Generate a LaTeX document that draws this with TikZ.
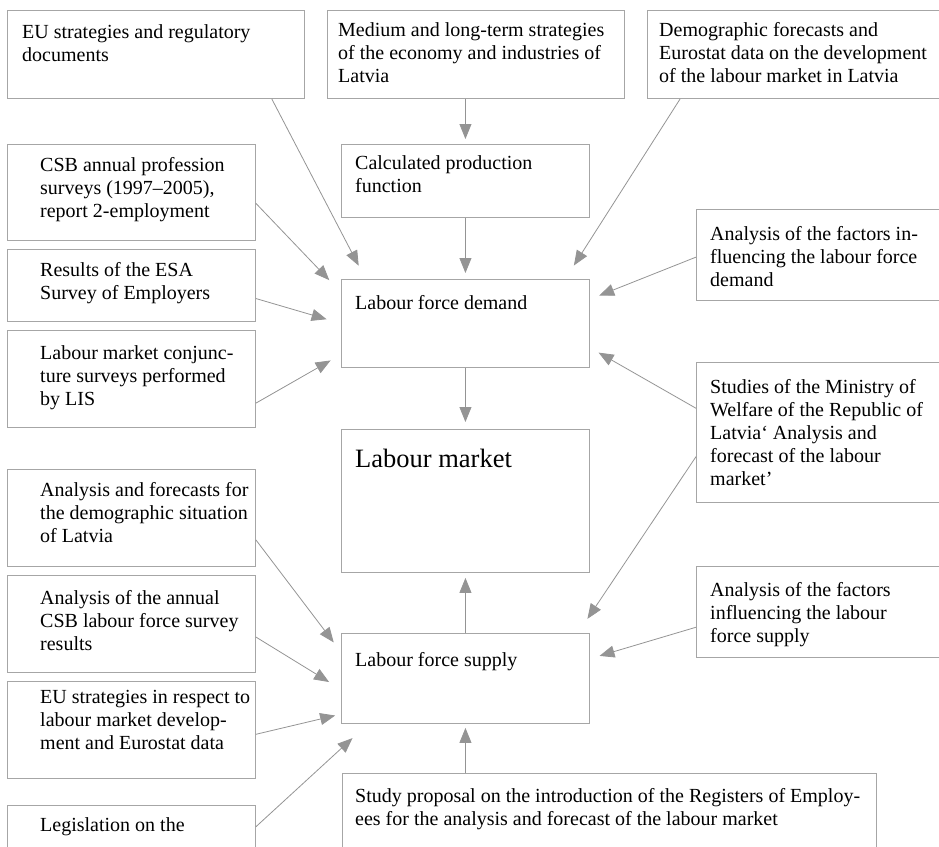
\documentclass[tikz,border=0pt]{standalone}
\usepackage{fontspec}
\setmainfont{Liberation Serif}
\usetikzlibrary{arrows.meta}

\begin{document}
\begin{tikzpicture}[x=1pt,y=-1pt]
   \tikzstyle{box}=[draw=black!35, line width=0.9pt, anchor=north west, inner sep=0pt]
   \tikzstyle{txt}=[anchor=north west, align=left, inner sep=0pt, xshift=14pt, yshift=-14pt, font=\fontsize{20}{23}\selectfont]
   \tikzstyle{ltxt}=[txt, xshift=19pt]
   \tikzstyle{arr}=[draw=black!42, line width=0.8pt, -{Triangle[length=15pt,width=12pt]}]
   \useasboundingbox (0,0) rectangle (939,846);
   % top row
   \node[box, minimum width=297pt, minimum height=88pt, label={[txt, xshift=1pt]north west:{EU strategies and regulatory\\documents}}] (eu) at (7,10) {};
   \node[box, minimum width=297pt, minimum height=88pt, label={[txt, xshift=-3pt, yshift=2pt]north west:{Medium and long-term strategies\\of the economy and industries of\\Latvia}}] (medium) at (327,10) {};
   \node[box, minimum width=297pt, minimum height=88pt, label={[txt, xshift=-2pt, yshift=2pt]north west:{Demographic forecasts and\\Eurostat data on the development\\of the labour market in Latvia}}] (demof) at (647,10) {};
   % left column
   \node[box, minimum width=248pt, minimum height=96pt, label={[ltxt, yshift=1pt]north west:{CSB annual profession\\surveys (1997--2005),\\report 2-employment}}] (csb) at (7,144) {};
   \node[box, minimum width=248pt, minimum height=72pt, label={[ltxt, yshift=1pt]north west:{Results of the ESA\\Survey of Employers}}] (esa) at (7,249) {};
   \node[box, minimum width=248pt, minimum height=97pt, label={[ltxt, yshift=-1pt]north west:{Labour market conjunc-\\ture surveys performed\\by LIS}}] (conj) at (7,330) {};
   \node[box, minimum width=248pt, minimum height=97pt, label={[ltxt, yshift=1pt]north west:{Analysis and forecasts for\\the demographic situation\\of Latvia}}] (demoa) at (7,469) {};
   \node[box, minimum width=248pt, minimum height=97pt, label={[ltxt, yshift=-1pt]north west:{Analysis of the annual\\CSB labour force survey\\results}}] (annual) at (7,575) {};
   \node[box, minimum width=248pt, minimum height=97pt, label={[ltxt, yshift=5pt]north west:{EU strategies in respect to\\labour market develop-\\ment and Eurostat data}}] (eurespect) at (7,681) {};
   \node[box, minimum width=248pt, minimum height=60pt, label={[ltxt, yshift=2pt]north west:{Legislation on the}}] (legis) at (7,805) {};
   % middle column
   \node[box, minimum width=248pt, minimum height=73pt, label={[txt, yshift=3pt]north west:{Calculated production\\function}}] (calc) at (341,144) {};
   \node[box, minimum width=248pt, minimum height=88pt, label={[txt, yshift=-2pt]north west:{Labour force demand}}] (demand) at (341,279) {};
   \node[box, minimum width=248pt, minimum height=143pt, label={[txt, yshift=-6pt, font=\fontsize{26.5}{30}\selectfont]north west:{Labour market}}] (market) at (341,429) {};
   \node[box, minimum width=248pt, minimum height=90pt, label={[txt, yshift=-5pt]north west:{Labour force supply}}] (supply) at (341,633) {};
   \node[box, minimum width=534pt, minimum height=90pt, label={[txt, xshift=-1pt, yshift=-1pt]north west:{Study proposal on the introduction of the Registers of Employ-\\ees for the analysis and forecast of the labour market}}] (study) at (342,773) {};
   % right column
   \node[box, minimum width=248pt, minimum height=91pt, label={[txt, yshift=-3pt]north west:{Analysis of the factors in-\\fluencing the labour force\\demand}}] (factd) at (696,209) {};
   \node[box, minimum width=248pt, minimum height=140pt, label={[txt, yshift=-3pt]north west:{Studies of the Ministry of\\Welfare of the Republic of\\Latvia‘ Analysis and\\forecast of the labour\\market’}}] (studies) at (696,362) {};
   \node[box, minimum width=248pt, minimum height=91pt, label={[txt, yshift=-2pt]north west:{Analysis of the factors\\influencing the labour\\force supply}}] (factsup) at (696,566) {};
   % connectors
   \foreach \a/\b/\s in {eu.-21/demand.156/15pt, demof.201/demand.24/16pt, csb.-5/demand.166/17pt,
       esa.-6/demand.180/15pt, conj.-11/demand.194/12pt, factd.181/demand.11/10pt,
       studies.169/demand.-11/10pt, studies.191/supply.22/17pt, demoa.-10/supply.168/12pt,
       annual.-6/supply.185/14pt, eurespect.-2/supply.196/6pt, legis.4/supply.205/21pt,
       factsup.187/supply.9/10pt} {
       \draw[arr, shorten >=\s] (\a) -- (\b);
   }
   \draw[arr, shorten >=5pt] (calc.north |- medium.south) -- (calc.north);
   \draw[arr, shorten >=6pt] (calc.south) -- (demand.north);
   \draw[arr, shorten >=7pt] (demand.south) -- (market.north);
   \draw[arr, shorten >=5pt] (supply.north) -- (market.south);
   \draw[arr, shorten >=4pt] (supply.south |- study.north) -- (supply.south);
\end{tikzpicture}
\end{document}
